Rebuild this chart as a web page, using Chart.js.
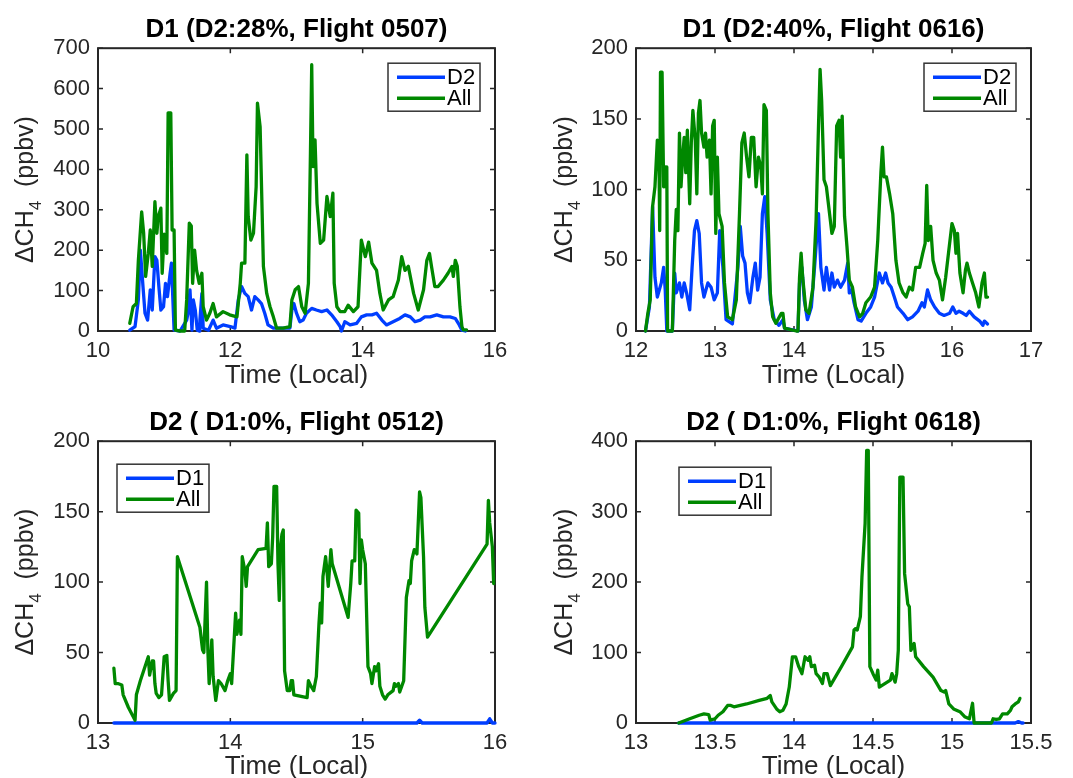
<!DOCTYPE html>
<html>
<head>
<meta charset="utf-8">
<title>Delta CH4 by flight</title>
<script src="https://cdn.jsdelivr.net/npm/chart.js@4.4.1/dist/chart.umd.min.js"></script>
<style>
  body { margin: 0; background: #fff; }
  #wrap { position: relative; width: 1073px; height: 778px; overflow: hidden; }
  canvas { position: absolute; }
</style>
</head>
<body>
<div id="wrap">
  <canvas id="c0507" width="536" height="390" style="left:0;top:0"></canvas>
  <canvas id="c0616" width="537" height="390" style="left:536px;top:0"></canvas>
  <canvas id="c0512" width="536" height="388" style="left:0;top:390px"></canvas>
  <canvas id="c0618" width="537" height="388" style="left:536px;top:390px"></canvas>
</div>
<script>
// ---- data (time in local hours, dCH4 in ppbv) ----

// Flight 0507, D1 region
const f0507AllTime = [10.48,10.53,10.58,10.61,10.66,10.69,10.72,10.76,10.79,10.82,10.86,10.89,10.91,10.95,10.97,11.00,11.04,11.06,11.10,11.12,11.15,11.17,11.24,11.31,11.34,11.38,11.41,11.43,11.46,11.49,11.53,11.57,11.59,11.64,11.69,11.74,11.79,11.89,11.99,12.10,12.15,12.17,12.22,12.25,12.27,12.31,12.35,12.39,12.41,12.45,12.50,12.55,12.60,12.65,12.70,12.80,12.90,12.93,12.98,13.03,13.08,13.13,13.18,13.21,13.23,13.25,13.28,13.31,13.36,13.41,13.46,13.51,13.55,13.57,13.61,13.66,13.73,13.78,13.86,13.93,13.98,14.04,14.09,14.14,14.21,14.26,14.31,14.39,14.46,14.54,14.59,14.64,14.69,14.77,14.84,14.92,14.97,15.01,15.04,15.09,15.14,15.22,15.29,15.35,15.37,15.40,15.43,15.47,15.50,15.52,15.57];
const f0507All = [19,60,68,175,295,242,135,192,250,160,320,242,283,304,143,240,192,540,540,250,250,2,0,0,77,267,260,118,200,150,118,143,60,27,44,68,35,48,40,35,118,168,168,436,283,225,242,357,564,506,160,93,60,35,7,7,11,77,102,110,60,44,118,432,659,407,473,316,217,225,333,283,341,118,60,48,48,64,48,60,225,184,220,168,150,93,52,77,85,126,184,150,160,93,52,102,175,192,160,110,110,126,143,160,135,175,160,60,11,3,3];
const f0507D2Time = [10.48,10.56,10.61,10.64,10.68,10.71,10.75,10.79,10.82,10.86,10.89,10.92,10.95,10.99,11.02,11.05,11.09,11.11,11.15,11.24,11.34,11.37,11.39,11.42,11.44,11.47,11.50,11.53,11.54,11.57,11.59,11.67,11.74,11.79,11.89,12.00,12.07,12.12,12.17,12.22,12.27,12.32,12.37,12.42,12.47,12.52,12.57,12.65,12.80,12.90,12.93,12.96,13.00,13.05,13.10,13.15,13.23,13.30,13.38,13.46,13.53,13.61,13.66,13.68,13.73,13.81,13.91,13.98,14.06,14.14,14.21,14.29,14.36,14.46,14.56,14.64,14.72,14.79,14.87,14.94,15.02,15.12,15.22,15.32,15.40,15.46,15.50,15.55];
const f0507D2 = [2,11,77,200,110,44,27,102,52,184,175,110,52,60,118,85,143,168,2,0,27,52,102,2,77,52,2,0,27,93,7,2,27,7,15,11,7,77,110,93,85,52,85,77,68,44,15,7,7,7,52,68,44,23,27,44,56,52,48,52,40,23,11,0,23,15,19,35,40,40,44,27,15,23,31,40,35,23,27,35,35,40,35,35,31,15,2,0];

// Flight 0616, D1 region
const f0616AllTime = [12.12,12.15,12.18,12.21,12.24,12.27,12.29,12.30,12.31,12.33,12.35,12.37,12.38,12.39,12.40,12.46,12.49,12.51,12.53,12.55,12.57,12.59,12.61,12.63,12.65,12.68,12.70,12.72,12.75,12.77,12.79,12.81,12.83,12.86,12.88,12.90,12.93,12.95,12.97,12.99,13.01,13.03,13.05,13.09,13.12,13.16,13.22,13.27,13.31,13.34,13.37,13.40,13.43,13.46,13.49,13.52,13.55,13.58,13.60,13.62,13.65,13.67,13.70,13.73,13.77,13.84,13.86,13.88,14.03,14.05,14.07,14.09,14.11,14.15,14.19,14.24,14.28,14.31,14.33,14.35,14.38,14.41,14.45,14.48,14.51,14.54,14.57,14.59,14.61,14.64,14.67,14.70,14.74,14.78,14.83,14.87,14.91,14.97,15.02,15.06,15.10,15.12,15.14,15.17,15.21,15.25,15.29,15.33,15.38,15.42,15.46,15.50,15.54,15.59,15.63,15.66,15.68,15.70,15.73,15.76,15.80,15.84,15.88,15.92,15.97,16.00,16.03,16.05,16.07,16.10,16.14,16.17,16.19,16.22,16.26,16.30,16.34,16.38,16.41,16.43,16.45];
const f0616All = [0,12.5,22,88,102,135,128,71,183,183,102,116,102,116,0,0,64,86,71,140,102,123,137,112,142,90,133,156,135,97,154,163,140,130,140,123,135,97,145,149,69,123,83,74,34,10,8,22,83,133,140,123,109,137,137,102,123,116,97,160,156,83,27,10,5.4,12.5,12.5,2,0,0,38,55,38,15,12.5,31,79,145,185,163,107,102,83,69,74,145,149,123,152,81,60,36,31,17,10,12.5,20,24,31,64,112,130,109,109,97,83,50,34,27,24,31,29,45,45,55,62,103,64,74,50,41,36,22,38,62,76,71,55,69,41,27,43,48,41,34,27,17,34,41,24,24];
const f0616D2Time = [12.12,12.17,12.21,12.24,12.27,12.32,12.35,12.37,12.39,12.46,12.49,12.51,12.55,12.58,12.61,12.64,12.68,12.71,12.74,12.77,12.80,12.83,12.86,12.91,12.95,12.99,13.03,13.06,13.10,13.14,13.22,13.29,13.32,13.35,13.38,13.41,13.44,13.48,13.51,13.54,13.57,13.60,13.63,13.66,13.70,13.75,13.81,13.86,13.88,14.05,14.07,14.10,14.13,14.17,14.22,14.26,14.31,14.34,14.38,14.41,14.45,14.48,14.51,14.55,14.59,14.64,14.68,14.70,14.73,14.76,14.81,14.85,14.91,14.97,15.02,15.08,15.12,15.16,15.19,15.23,15.27,15.31,15.38,15.44,15.50,15.57,15.62,15.65,15.69,15.73,15.78,15.84,15.90,15.97,16.01,16.05,16.09,16.14,16.18,16.22,16.28,16.35,16.39,16.41,16.45];
const f0616D2 = [0,17,88,38,24,34,45,29,0,0,41,27,34,24,34,27,15,45,71,78,69,34,24,34,31,22,27,71,45,8,5,45,74,53,48,27,20,38,48,29,38,83,95,69,22,8,4,8,2,0,34,45,22,8,17,45,83,45,29,45,29,41,31,36,31,36,48,27,29,20,8,7,12.5,17,24,41,34,41,34,31,24,17,12.5,8,10,14,20,17,29,22,17,12.5,11,12.5,17,12.5,14,12.5,11,14,10,7,4,7,5];

// Flight 0512, D2 region
const f0512AllTime = [13.12,13.13,13.15,13.18,13.19,13.23,13.28,13.29,13.32,13.38,13.39,13.41,13.42,13.43,13.44,13.46,13.48,13.50,13.52,13.53,13.54,13.57,13.59,13.60,13.77,13.79,13.80,13.82,13.83,13.84,13.86,13.87,13.89,13.91,13.93,13.96,13.98,14.00,14.01,14.04,14.05,14.07,14.08,14.09,14.11,14.12,14.13,14.21,14.27,14.28,14.29,14.31,14.32,14.33,14.35,14.36,14.37,14.38,14.39,14.40,14.41,14.43,14.45,14.46,14.47,14.48,14.58,14.59,14.61,14.63,14.65,14.67,14.68,14.69,14.70,14.72,14.73,14.74,14.76,14.77,14.89,14.91,14.92,14.94,14.95,14.97,14.98,14.99,15.00,15.02,15.04,15.06,15.07,15.09,15.10,15.12,15.13,15.15,15.17,15.19,15.23,15.24,15.25,15.27,15.28,15.31,15.33,15.35,15.36,15.37,15.39,15.41,15.43,15.44,15.46,15.47,15.49,15.94,15.95,15.96,15.98,15.99];
const f0512All = [39,28,28,27,20,11,2,20,30,47,34,44,44,28,21,18,20,47,48,30,16,21,23,118,68,52,50,100,52,28,59,33,16,30,28,23,30,35,28,78,63,73,63,118,108,97,111,123,124,142,111,113,132,168,168,113,87,125,134,137,37,23,23,30,30,20,18,30,26,23,33,71,85,71,104,118,108,97,123,113,75,99,115,115,151,149,99,130,123,113,40,35,28,40,37,42,26,20,17,20,23,28,26,28,22,30,89,101,99,115,123,120,164,160,118,82,61,127,158,142,125,99];
const f0512D1Time = [13.12,15.41,15.43,15.45,15.94,15.96,15.98,16.00];
const f0512D1 = [0,0,2,0,0,3,0,0];

// Flight 0618, D2 region
const f0618AllTime = [13.27,13.34,13.40,13.43,13.46,13.47,13.50,13.52,13.55,13.58,13.60,13.62,13.70,13.78,13.83,13.85,13.86,13.89,13.91,13.93,13.95,13.97,13.99,14.01,14.03,14.05,14.07,14.09,14.10,14.11,14.13,14.14,14.16,14.18,14.19,14.21,14.23,14.30,14.37,14.38,14.39,14.40,14.42,14.43,14.45,14.46,14.47,14.48,14.50,14.52,14.53,14.54,14.61,14.62,14.64,14.65,14.66,14.67,14.69,14.70,14.72,14.73,14.74,14.76,14.77,14.82,14.88,14.93,14.95,14.96,14.98,15.01,15.05,15.08,15.11,15.13,15.14,15.25,15.26,15.28,15.30,15.32,15.35,15.37,15.38,15.40,15.42,15.43];
const f0618All = [0,6,11,13,12,4,6,11,16,25,25,23,27,32,35,39,30,20,16,18,27,51,94,94,80,70,94,89,94,80,82,70,65,56,70,70,53,80,108,132,134,132,151,207,283,387,387,80,70,61,75,51,61,70,58,70,103,349,349,212,169,165,103,113,94,80,65,46,44,46,27,20,16,9,6,28,0,0,6,5,6,13,13,18,23,27,30,35];
const f0618D1Time = [13.27,15.40,15.42,15.44,15.45];
const f0618D1 = [0,0,2,0,0];

// ---- style ----
const FONT = '"Liberation Sans", Arial, Helvetica, sans-serif';
const INK = '#262626';
const BLUE = 'rgb(0,62,255)';
const GREEN = 'rgb(0,136,0)';

function zip(xs, ys) {
  return xs.map((x, i) => ({ x: x, y: ys[i] }));
}

// box round the axes with inward ticks on all four sides
const axesBox = {
  id: 'axesBox',
  beforeDatasetsDraw(chart) {
    const { ctx, chartArea: a, scales } = chart;
    ctx.save();
    ctx.strokeStyle = INK;
    ctx.lineWidth = 1.5;
    ctx.beginPath();
    scales.x.ticks.forEach(t => {
      const px = scales.x.getPixelForValue(t.value);
      ctx.moveTo(px, a.bottom); ctx.lineTo(px, a.bottom - 5);
      ctx.moveTo(px, a.top); ctx.lineTo(px, a.top + 5);
    });
    scales.y.ticks.forEach(t => {
      const py = scales.y.getPixelForValue(t.value);
      ctx.moveTo(a.left, py); ctx.lineTo(a.left + 5, py);
      ctx.moveTo(a.right, py); ctx.lineTo(a.right - 5, py);
    });
    ctx.stroke();
    ctx.lineWidth = 2;
    ctx.strokeRect(a.left, a.top, a.right - a.left, a.bottom - a.top);
    ctx.restore();
  }
};

// y axis title with the subscript 4
const yTitle = {
  id: 'yTitle',
  afterDraw(chart, args, opts) {
    const { ctx, chartArea: a } = chart;
    const parts = [
      ['\u0394CH', '25px ' + FONT, 0],
      ['4', '17px ' + FONT, 8],
      ['  (ppbv)', '25px ' + FONT, 0]
    ];
    ctx.save();
    ctx.translate(opts.x, (a.top + a.bottom) / 2);
    ctx.rotate(-Math.PI / 2);
    ctx.fillStyle = INK;
    ctx.textBaseline = 'alphabetic';
    let total = 0;
    parts.forEach(p => { ctx.font = p[1]; total += ctx.measureText(p[0]).width; });
    let px = -total / 2;
    parts.forEach(p => {
      ctx.font = p[1];
      ctx.fillText(p[0], px, p[2]);
      px += ctx.measureText(p[0]).width;
    });
    ctx.restore();
  }
};

// boxed legend inside the axes
const legendBox = {
  id: 'legendBox',
  afterDraw(chart, args, opts) {
    const { ctx, chartArea: a } = chart;
    const x = a.left + opts.dx, y = a.top + opts.dy;
    ctx.save();
    ctx.fillStyle = '#fff';
    ctx.fillRect(x, y, 92, 48);
    ctx.strokeStyle = '#333';
    ctx.lineWidth = 1.5;
    ctx.strokeRect(x, y, 92, 48);
    ctx.font = '22px ' + FONT;
    ctx.textBaseline = 'middle';
    [1, 0].forEach((idx, row) => {
      const ds = chart.data.datasets[idx];
      const ly = y + 14 + row * 21;
      ctx.strokeStyle = ds.borderColor;
      ctx.lineWidth = 3.5;
      ctx.beginPath();
      ctx.moveTo(x + 9, ly);
      ctx.lineTo(x + 57, ly);
      ctx.stroke();
      ctx.fillStyle = '#000';
      ctx.fillText(ds.label, x + 59, ly + 1);
    });
    ctx.restore();
  }
};

function makePanel(id, p) {
  return new Chart(document.getElementById(id), {
    type: 'line',
    data: {
      datasets: [
        { label: 'All', data: zip(p.allTime, p.all), borderColor: GREEN, borderWidth: 3.3, order: 0 },
        { label: p.otherName, data: zip(p.otherTime, p.other), borderColor: BLUE, borderWidth: 3.3, order: 1 }
      ]
    },
    options: {
      responsive: false,
      devicePixelRatio: 1,
      animation: false,
      layout: { padding: { left: 0, right: p.padRight, top: 0, bottom: 0 } },
      elements: {
        point: { radius: 0 },
        line: { tension: 0, borderJoinStyle: 'round', borderCapStyle: 'round' }
      },
      datasets: { line: { clip: false } },
      scales: {
        x: {
          type: 'linear',
          min: p.xMin, max: p.xMax,
          grid: { display: false, drawTicks: false },
          border: { display: false },
          ticks: {
            stepSize: p.xStep, autoSkip: false, maxRotation: 0,
            color: INK, padding: 7,
            font: { family: FONT, size: 22 },
            callback: v => String(v)
          },
          title: {
            display: true, text: 'Time (Local)', color: INK,
            font: { family: FONT, size: 26, lineHeight: 1 },
            padding: { top: 0, bottom: p.xTitlePad }
          },
          afterFit(s) { s.height = p.xAxisH; }
        },
        y: {
          min: 0, max: p.yMax,
          grid: { display: false, drawTicks: false },
          border: { display: false },
          ticks: {
            stepSize: p.yStep, color: INK, padding: 8,
            font: { family: FONT, size: 22 },
            callback: v => String(v)
          },
          afterFit(s) { s.width = p.yAxisW; }
        }
      },
      plugins: {
        legend: { display: false },
        tooltip: { enabled: false },
        title: {
          display: true, text: p.title, fullSize: false, color: '#000',
          font: { family: FONT, size: 26, weight: 'bold', lineHeight: 1.2 },
          padding: p.titlePad
        },
        yTitle: { x: p.yTitleX },
        legendBox: { dx: p.legDx, dy: p.legDy }
      }
    },
    plugins: [axesBox, yTitle, legendBox]
  });
}

makePanel('c0507', {
  title: 'D1 (D2:28%, Flight 0507)', otherName: 'D2',
  allTime: f0507AllTime, all: f0507All, otherTime: f0507D2Time, other: f0507D2,
  xMin: 10, xMax: 16, xStep: 2, yMax: 700, yStep: 100,
  padRight: 41, yAxisW: 98, xAxisH: 59, xTitlePad: 1, titlePad: { top: 14, bottom: 3 },
  yTitleX: 33, legDx: 290, legDy: 15
});
makePanel('c0616', {
  title: 'D1 (D2:40%, Flight 0616)', otherName: 'D2',
  allTime: f0616AllTime, all: f0616All, otherTime: f0616D2Time, other: f0616D2,
  xMin: 12, xMax: 17, xStep: 1, yMax: 200, yStep: 50,
  padRight: 42, yAxisW: 100, xAxisH: 59, xTitlePad: 1, titlePad: { top: 14, bottom: 3 },
  yTitleX: 36, legDx: 288, legDy: 15
});
makePanel('c0512', {
  title: 'D2 ( D1:0%, Flight 0512)', otherName: 'D1',
  allTime: f0512AllTime, all: f0512All, otherTime: f0512D1Time, other: f0512D1,
  xMin: 13, xMax: 16, xStep: 1, yMax: 200, yStep: 50,
  padRight: 41, yAxisW: 98, xAxisH: 55, xTitlePad: -2, titlePad: { top: 17, bottom: 3 },
  yTitleX: 33, legDx: 19, legDy: 23
});
makePanel('c0618', {
  title: 'D2 ( D1:0%, Flight 0618)', otherName: 'D1',
  allTime: f0618AllTime, all: f0618All, otherTime: f0618D1Time, other: f0618D1,
  xMin: 13, xMax: 15.5, xStep: 0.5, yMax: 400, yStep: 100,
  padRight: 42, yAxisW: 100, xAxisH: 55, xTitlePad: -2, titlePad: { top: 17, bottom: 3 },
  yTitleX: 36, legDx: 43, legDy: 26
});
</script>
</body>
</html>
